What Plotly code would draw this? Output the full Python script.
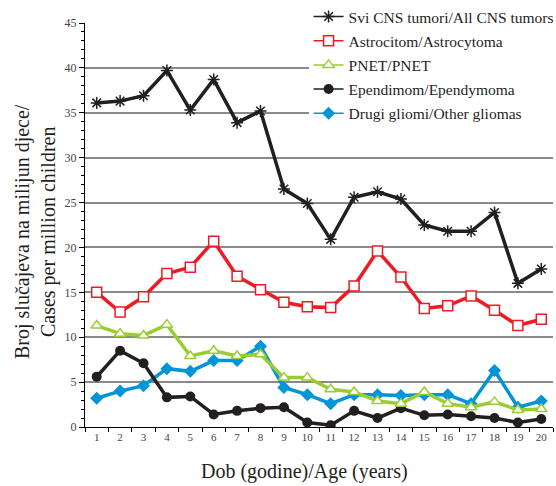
import plotly.graph_objects as go

ages = [str(i) for i in range(1, 21)]

svi = [36.1, 36.3, 36.9, 39.7, 35.3, 38.7, 33.9, 35.2, 26.5, 24.9,
       20.9, 25.6, 26.2, 25.4, 22.5, 21.8, 21.8, 23.9, 16.0, 17.6]
astro = [15.0, 12.8, 14.5, 17.1, 17.8, 20.7, 16.8, 15.3, 13.9, 13.4,
         13.3, 15.7, 19.6, 16.7, 13.2, 13.5, 14.6, 13.0, 11.3, 12.0]
pnet = [11.3, 10.4, 10.2, 11.4, 7.9, 8.5, 7.9, 8.1, 5.5, 5.5,
        4.2, 3.9, 2.9, 2.6, 3.9, 2.6, 2.2, 2.8, 1.9, 2.0]
epend = [5.6, 8.5, 7.1, 3.3, 3.4, 1.4, 1.8, 2.1, 2.2, 0.5,
         0.2, 1.8, 1.0, 2.1, 1.3, 1.4, 1.2, 1.0, 0.5, 0.9]
other = [3.2, 4.0, 4.6, 6.5, 6.2, 7.4, 7.4, 9.0, 4.4, 3.6,
         2.6, 3.6, 3.6, 3.5, 3.6, 3.6, 2.6, 6.3, 2.2, 2.9]

names = ["Svi CNS tumori/All CNS tumors", "Astrocitom/Astrocytoma", "PNET/PNET",
         "Ependimom/Ependymoma", "Drugi gliomi/Other gliomas"]
colors = ["#231f20", "#ed1c24", "#9acd32", "#231f20", "#0095d9"]
series = [svi, astro, pnet, epend, other]
markers = [
    dict(symbol="asterisk-open", size=10, line=dict(width=1.5, color=colors[0])),
    dict(symbol="square", size=10, color="white", line=dict(width=1.5, color=colors[1])),
    dict(symbol="triangle-up", size=10, color="white", line=dict(width=1.5, color=colors[2])),
    dict(symbol="circle", size=10, color=colors[3]),
    dict(symbol="diamond", size=10, color=colors[4]),
]

FONT = "Liberation Serif"
fig = go.Figure()

order = [4, 3, 2, 1, 0]
for i in order:
    fig.add_trace(go.Scatter(x=ages, y=series[i], mode="lines+markers",
                             line=dict(color=colors[i], width=3.5),
                             marker=markers[i], showlegend=False))
for i in range(5):
    fig.add_trace(go.Scatter(x=[None], y=[None], mode="lines+markers", name=names[i],
                             line=dict(color=colors[i], width=1.5),
                             marker=markers[i], legendgroup=str(i)))

fig.add_shape(type="line", xref="paper", x0=0, x1=1, yref="y", y0=5, y1=5,
              line=dict(color="black", width=1), layer="below")

fig.update_layout(
    width=556, height=486,
    margin=dict(l=85, r=3, t=23, b=59, autoexpand=False),
    paper_bgcolor="white", plot_bgcolor="white",
    font=dict(family=FONT, color="#231f20"),
    showlegend=True,
    legend=dict(xref="container", yref="container", x=0.555, xanchor="left",
                y=1.015, yanchor="top",
                bgcolor="white", borderwidth=0,
                font=dict(family=FONT, size=15.5, color="#231f20"),
                traceorder="grouped", tracegroupgap=1,
                itemwidth=30),
    xaxis=dict(type="category", showgrid=False, showline=True, linecolor="black",
               linewidth=1, ticks="outside", tickson="boundaries", ticklen=4,
               tickcolor="black", tickfont=dict(size=11, color="#444"),
               range=[-0.5, 19.5], automargin=False),
    yaxis=dict(range=[0, 45], dtick=5, showgrid=True, gridcolor="#8a8a8a", gridwidth=1.5,
               showline=True, linecolor="black", linewidth=1, ticks="outside", ticklen=5,
               tickcolor="black", tickfont=dict(size=12, color="#444"),
               minor=dict(dtick=1, ticks="outside", ticklen=3, tickcolor="black", showgrid=False),
               zeroline=False, automargin=False),
    annotations=[
        dict(text="Dob (godine)/Age (years)", xref="paper", yref="paper",
             x=0.47, y=-0.111, xanchor="center", yanchor="middle", showarrow=False,
             font=dict(size=20, family=FONT, color="#231f20")),
        dict(text="Broj slučajeva na milijun djece/<br>Cases per million children",
             xref="paper", yref="paper", x=-0.107, y=0.485, xanchor="center",
             yanchor="middle", textangle=-90, showarrow=False,
             font=dict(size=20, family=FONT, color="#231f20")),
    ],
)

fig.write_html("out.html", config={"displayModeBar": False},
               post_script="document.body.style.margin='0';document.body.style.overflow='hidden';")
